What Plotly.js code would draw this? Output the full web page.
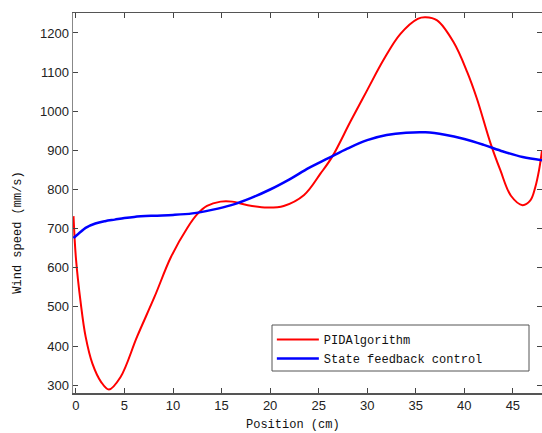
<!DOCTYPE html>
<html>
<head>
<meta charset="utf-8">
<script src="https://cdn.plot.ly/plotly-3.0.1.min.js"></script>
<style>html,body{margin:0;padding:0;background:#fff;}#chart{width:542px;height:433px;}</style>
</head>
<body>
<div id="chart"></div>
<script>
// Position (cm) and wind speed (mm/s)
const pidX = [-0.25, 0, 0.5, 1.0, 1.7, 2.6, 3.4, 4.6, 6.3, 8.1, 9.8, 11.5, 12.5, 13.5, 14.9, 16.1, 17.7, 19.7, 21.4, 23.5, 25.2, 26.4, 28.3, 30.0, 31.7, 33.4, 35.2, 36.0, 37.2, 38.9, 40.3, 41.3, 42.7, 43.7, 44.8, 46.0, 46.8, 47.3, 47.7, 48.0];
const pidY = [732, 625, 509, 424, 355, 308, 289, 321, 424, 526, 628, 703, 737, 758, 769, 769, 760, 754, 758, 786, 841, 884, 975, 1054, 1132, 1197, 1236, 1240, 1232, 1176, 1100, 1032, 918, 850, 784, 760, 772, 805, 850, 900];
const sfcX = [-0.25, 0.5, 1, 2, 3, 4, 5, 6, 8, 10, 12, 14, 16, 18, 20, 22, 24, 26, 28, 30, 32, 34, 36, 38, 40, 42, 44, 46, 48];
const sfcY = [676, 692, 702, 713, 719, 723, 727, 730, 733, 735, 739, 748, 760, 778, 800, 826, 855, 880, 905, 926, 939, 945, 946, 940, 929, 914, 897, 883, 875];
const xTicks = [0, 5, 10, 15, 20, 25, 30, 35, 40, 45];
const yTicks = [300, 400, 500, 600, 700, 800, 900, 1000, 1100, 1200];
const names = ["PIDAlgorithm", "State feedback control"];
const xTitle = "Position (cm)";
const yTitle = "Wind speed (mm/s)";

const traces = [
  {x: pidX, y: pidY, name: names[0], mode: 'lines', line: {color: '#ff0000', width: 2, shape: 'spline', smoothing: 1}},
  {x: sfcX, y: sfcY, name: names[1], mode: 'lines', line: {color: '#0000ff', width: 2.5, shape: 'spline', smoothing: 1}}
];

const tickFont = {family: 'Liberation Sans Narrow, Liberation Sans, Arial, sans-serif', size: 13, color: '#222'};
const monoFont = {family: 'Liberation Mono, DejaVu Sans Mono, monospace', size: 12, color: '#111'};

const layout = {
  width: 542, height: 433,
  margin: {l: 73, r: 0, t: 13, b: 40},
  paper_bgcolor: '#fff', plot_bgcolor: '#fff',
  showlegend: true,
  xaxis: {
    range: [-0.3, 48], tickvals: xTicks, ticktext: xTicks.map(String),
    ticks: 'inside', ticklen: 5, tickcolor: '#444', mirror: 'ticks',
    showline: true, linecolor: '#555', linewidth: 1.5, showgrid: false, zeroline: false,
    tickfont: tickFont
  },
  yaxis: {
    range: [280, 1251], tickvals: yTicks, ticktext: yTicks.map(String),
    ticks: 'inside', ticklen: 5, tickcolor: '#444', mirror: 'ticks',
    showline: true, linecolor: '#888', linewidth: 1.5, showgrid: false, zeroline: false,
    tickfont: tickFont
  },
  legend: {
    x: 0.424, y: 0.179, xanchor: 'left', yanchor: 'top',
    bgcolor: 'rgba(0,0,0,0)', borderwidth: 0,
    font: monoFont, itemwidth: 42, tracegroupgap: 0
  },
  shapes: [
    {type: 'rect', xref: 'paper', yref: 'paper', layer: 'above',
     x0: (272 - 73) / 469, x1: (529 - 73) / 469, y0: (393 - 371) / 380, y1: (393 - 325) / 380,
     fillcolor: '#fff', line: {color: '#555', width: 1}}
  ],
  annotations: [
    {text: xTitle, xref: 'paper', yref: 'paper', x: (293 - 73) / 469, y: -0.085, xanchor: 'center', yanchor: 'middle', showarrow: false, font: monoFont},
    {text: yTitle, xref: 'paper', yref: 'paper', x: -0.118, y: (393 - 233) / 380, xanchor: 'center', yanchor: 'middle', textangle: -90, showarrow: false, font: monoFont}
  ]
};

Plotly.newPlot('chart', traces, layout, {displayModeBar: false, staticPlot: true});
</script>
</body>
</html>
